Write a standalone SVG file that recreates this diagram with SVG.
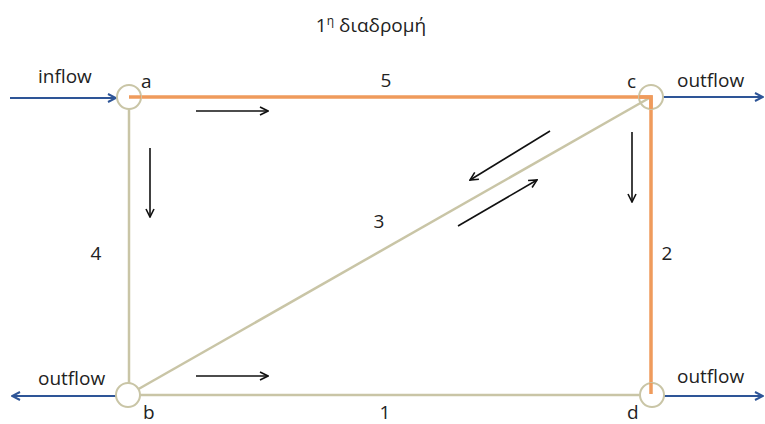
<svg xmlns="http://www.w3.org/2000/svg" width="765" height="424" viewBox="0 0 765 424">
<defs>
<style>
.t{font-family:"Open Sans","Liberation Sans",sans-serif;font-size:19px;fill:#222}
.edge{stroke:#c9c5a6;stroke-width:2.5;fill:none}
.route{stroke:#ef9b5c;stroke-width:3.5;fill:none}
.flow{stroke:#2e5597;stroke-width:2;fill:none}
.dir{stroke:#111;stroke-width:1.6;fill:none}
.node{fill:#fff;stroke:#c9c5a6;stroke-width:2}
</style>
<marker id="ab" viewBox="0 0 10 10" refX="9" refY="5" markerWidth="10" markerHeight="10" markerUnits="userSpaceOnUse" orient="auto"><path d="M1,1 L9,5 L1,9" fill="none" stroke="#2e5597" stroke-width="2"/></marker>
<marker id="ak" viewBox="0 0 10 10" refX="9" refY="5" markerWidth="10" markerHeight="10" markerUnits="userSpaceOnUse" orient="auto"><path d="M1,1 L9,5 L1,9" fill="none" stroke="#111" stroke-width="1.6"/></marker>
</defs>
<rect width="765" height="424" fill="#fff"/>
<text class="t" x="371" y="32" text-anchor="middle">1<tspan font-size="12" dy="-7">η</tspan><tspan dy="7"> διαδρομή</tspan></text>
<g id="connectors">
<line class="edge" x1="129" y1="97" x2="129" y2="395"/>
<line class="edge" x1="128" y1="395" x2="652" y2="395"/>
<line class="edge" x1="128" y1="395" x2="651" y2="97"/>
<polyline class="route" points="129,97 651,97 651,385"/>
<line class="flow" x1="10" y1="98" x2="116" y2="98" marker-end="url(#ab)"/>
<line class="flow" x1="663" y1="97" x2="763" y2="97" marker-end="url(#ab)"/>
<line class="flow" x1="116" y1="396" x2="12" y2="396" marker-end="url(#ab)"/>
<line class="flow" x1="664" y1="396" x2="763" y2="396" marker-end="url(#ab)"/>
<line class="dir" x1="196" y1="111" x2="268" y2="111" marker-end="url(#ak)"/>
<line class="dir" x1="150" y1="148" x2="150" y2="217" marker-end="url(#ak)"/>
<line class="dir" x1="632" y1="132" x2="632" y2="202" marker-end="url(#ak)"/>
<line class="dir" x1="550" y1="131" x2="470" y2="180" marker-end="url(#ak)"/>
<line class="dir" x1="458" y1="226" x2="537" y2="180" marker-end="url(#ak)"/>
<line class="dir" x1="196" y1="376" x2="268" y2="376" marker-end="url(#ak)"/>
<text class="t" x="386" y="87" text-anchor="middle">5</text>
<text class="t" x="667" y="260" text-anchor="middle">2</text>
<text class="t" x="379" y="228" text-anchor="middle">3</text>
<text class="t" x="96" y="260" text-anchor="middle">4</text>
<text class="t" x="385" y="419" text-anchor="middle">1</text>
<text class="t" x="38" y="83">inflow</text>
<text class="t" x="677" y="87">outflow</text>
<text class="t" x="38" y="385">outflow</text>
<text class="t" x="677" y="383">outflow</text>
</g>
<g id="node-a"><circle class="node" cx="129" cy="97" r="12"/><path class="route" d="M129,97 H141"/><text class="t" x="141" y="88">a</text></g>
<g id="node-c"><circle class="node" cx="651" cy="97" r="12" fill-opacity="0"/><polyline class="route" points="639,97 651,97 651,109"/><text class="t" x="627" y="88">c</text></g>
<g id="node-b"><circle class="node" cx="128" cy="395" r="12"/><text class="t" x="143" y="419">b</text></g>
<g id="node-d"><circle class="node" cx="652" cy="395" r="12"/><path class="route" d="M651,383 V394"/><text class="t" x="627" y="419">d</text></g>
</svg>
